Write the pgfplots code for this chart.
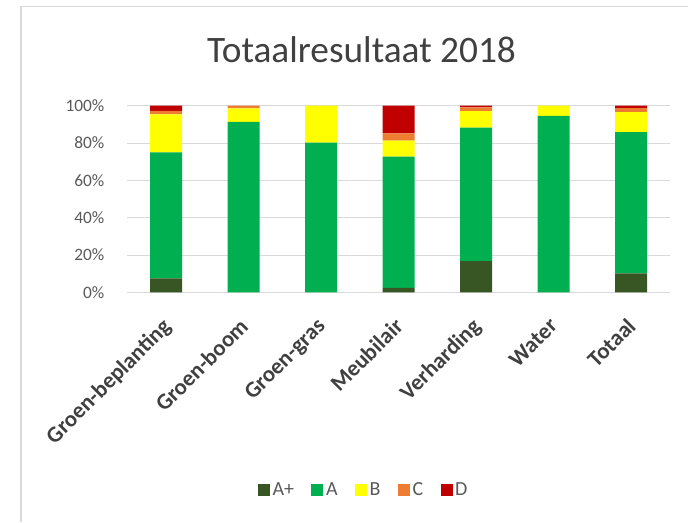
\documentclass[border=0pt]{standalone}
\usepackage{pgfplots}
\pgfplotsset{compat=1.18}
\usepackage{fontspec}
\setmainfont{Carlito}

\definecolor{cAp}{HTML}{375623}
\definecolor{cA}{HTML}{00B050}
\definecolor{cB}{HTML}{FFFF00}
\definecolor{cC}{HTML}{ED7D31}
\definecolor{cD}{HTML}{C00000}
\definecolor{gridc}{HTML}{D9D9D9}
\definecolor{txt}{HTML}{595959}
\definecolor{dtxt}{HTML}{404040}

\begin{document}
\begin{tikzpicture}
\useasboundingbox (0,0) rectangle (516pt,391.5pt);
% chart frame (runs off the right and bottom edge)
\draw[gridc, line width=1.2pt] (15.8pt,0pt) -- (15.8pt,386.6pt) -- (520pt,386.6pt);

\begin{axis}[
  at={(95.44pt,172.13pt)}, anchor=south west,
  scale only axis, width=406.9pt, height=140.1pt,
  ybar stacked, bar width=24pt,
  xmin=-0.5, xmax=6.5, ymin=0, ymax=100,
  xtick={0,...,6},
  xticklabels={Groen-beplanting,Groen-boom,Groen-gras,Meubilair,Verharding,Water,Totaal},
  ytick={0,20,...,100},
  yticklabel={\pgfmathprintnumber{\tick}\%},
  /pgf/number format/assume math mode=true,
  ymajorgrids, grid style={gridc, line width=0.8pt},
  axis line style={draw=none}, tick style={draw=none},
  yticklabel style={font=\fontsize{13}{15}\selectfont, text=txt, inner sep=0pt, xshift=-17pt},
  xticklabel style={font=\fontsize{17}{19}\selectfont\bfseries, text=dtxt, xshift=-4pt, rotate=45, anchor=north east, inner sep=0pt},
  xticklabel shift=18pt,
  legend columns=5,
  legend style={at={(0.4364,-1.057)}, anchor=center, draw=none, fill=none,
    font=\fontsize{15}{17}\selectfont, text=txt,
    /tikz/every even column/.append style={column sep=11pt}},
  legend image code/.code={\fill[#1] (0pt,-4.5pt) rectangle (9pt,4.5pt);},
  every axis plot/.append style={draw=none},
]
\addplot[fill=cAp] coordinates {(0,7.5) (1,0) (2,0) (3,2.5) (4,16.8) (5,0) (6,10.2)};
\addplot[fill=cA]  coordinates {(0,67.5) (1,91.4) (2,80.2) (3,70.2) (4,71.4) (5,94.6) (6,75.7)};
\addplot[fill=cB]  coordinates {(0,20.4) (1,7.2) (2,19.8) (3,8.6) (4,8.9) (5,5.4) (6,10.7)};
\addplot[fill=cC]  coordinates {(0,1.8) (1,1.4) (2,0) (3,3.9) (4,2.0) (5,0) (6,2.1)};
\addplot[fill=cD]  coordinates {(0,2.8) (1,0) (2,0) (3,14.8) (4,0.9) (5,0) (6,1.3)};
\legend{A+,A,B,C,D}
\end{axis}

\node[text=dtxt, font=\fontsize{28}{31}\selectfont] at (271.1pt,354pt) {Totaalresultaat 2018};
\end{tikzpicture}
\end{document}
